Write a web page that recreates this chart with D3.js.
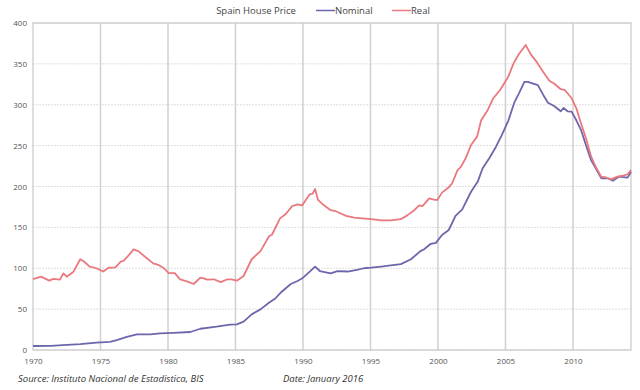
<!DOCTYPE html>
<html><head><meta charset="utf-8">
<script src="https://cdn.jsdelivr.net/npm/d3@7"></script>
<style>body{margin:0;background:#fff;}svg{display:block;font-family:"Open Sans","Noto Sans",sans-serif;}</style>
</head><body>
<svg id="c" width="640" height="390"></svg>
<script>
const title = "Spain House Price";
const seriesNames = ["Nominal", "Real"];
const seriesColors = ["#6c67ac", "#ea787e"];
const yTicks = [0, 50, 100, 150, 200, 250, 300, 350, 400];
const xTicks = [1970, 1975, 1980, 1985, 1990, 1995, 2000, 2005, 2010];
const sourceText = "Source: Instituto Nacional de Estadistica, BIS";
const dateText = "Date: January 2016";

const nominalYears = [1970.0,1971.3,1972.2,1973.5,1974.7,1975.7,1976.2,1976.95,1977.7,1978.7,1979.4,1980.4,1981.65,1982.4,1983.6,1984.6,1985.1,1985.6,1986.2,1986.85,1987.5,1987.95,1988.4,1989.1,1989.6,1989.95,1990.5,1990.9,1991.25,1992.05,1992.55,1993.3,1994.0,1994.5,1995.05,1995.8,1996.2,1997.25,1998.0,1998.7,1998.95,1999.45,1999.85,2000.3,2000.8,2001.3,2001.8,2002.45,2002.95,2003.3,2003.8,2004.3,2004.7,2005.2,2005.65,2006.0,2006.4,2006.65,2007.4,2007.8,2008.15,2008.6,2009.1,2009.3,2009.6,2009.9,2010.25,2010.6,2011.0,2011.35,2011.7,2012.1,2012.6,2012.95,2013.4,2014.05,2014.3];
const nominalValues = [4.9,5,6,7.3,9,10,12,16,19,19,20.4,21,22,26,28.5,31,31.4,34.7,43.6,49.7,58,63,71,80.7,84.4,87.7,95.8,102,96.6,93.8,96.6,96,97.9,100,100.7,102,102.8,105,111,121,123,129.7,131,140.7,146.8,164,172,193.6,206,222,234.5,248.7,262,280,302.5,314,328,328,324,312,302.5,298.5,292,296,292,291.6,281,269,248.7,232,222,210,210,207,212,210.8,218];

const realYears = [1970.0,1970.6,1971.2,1971.5,1972.0,1972.25,1972.5,1973.0,1973.5,1973.8,1974.2,1974.7,1975.2,1975.6,1976.1,1976.5,1976.7,1977.1,1977.45,1977.8,1978.3,1978.9,1979.3,1979.7,1980.05,1980.5,1980.9,1981.4,1981.9,1982.4,1982.6,1982.9,1983.4,1983.9,1984.4,1984.7,1985.1,1985.6,1986.2,1986.85,1987.5,1987.7,1988.3,1988.7,1989.2,1989.6,1989.95,1990.5,1990.7,1990.9,1991.1,1991.55,1992.05,1992.4,1992.8,1993.2,1993.8,1994.4,1995.05,1995.8,1996.5,1997.25,1997.75,1998.25,1998.6,1998.85,1999.35,1999.7,1999.95,2000.3,2000.8,2001.05,2001.45,2001.7,2002.05,2002.45,2002.9,2003.2,2003.7,2004.1,2004.6,2005.2,2005.6,2006.0,2006.5,2006.9,2007.3,2007.8,2008.25,2008.6,2009.1,2009.4,2009.9,2010.25,2010.6,2011.0,2011.35,2011.7,2012.1,2012.45,2012.8,2013.3,2013.8,2014.05,2014.3];
const realValues = [86.7,89.7,84.8,87,86,93.8,89.7,95.8,111,108,102,100,96,100.6,101,108,109,116,123,121,114,106,104,100,94,94,86.5,84,80.7,88.5,88,86,86.5,83,86.5,86.4,84.8,90.5,111,121,139.5,141,161,166,176,178,177,190.4,191,197,184,177,171,170,167,164,162,161,160,158.5,158.5,160,165,171,177,176,185.5,184,183.5,192.5,199,204,220,224,234.5,250.8,261,281,294,308,318,334,350.6,362,373,361,352.7,340,329.4,326,319,318,308,295.6,277,257,236.5,223.5,212,211,208.8,212,213.6,215,220];

const svg = d3.select("#c");
const L = 33, R = 631, T = 23, B = 350;
const x = d3.scaleLinear().domain([1970, 2014.3]).range([L, R]);
const y = d3.scaleLinear().domain([0, 400]).range([B, T]);

// horizontal grid
svg.append("g").selectAll("line").data(yTicks).join("line")
  .attr("x1", L).attr("x2", R).attr("y1", d => y(d)).attr("y2", d => y(d))
  .attr("stroke", "#dedede").attr("stroke-width", 1).attr("stroke-dasharray", "2,1");
// vertical grid
svg.append("g").selectAll("line").data(xTicks.slice(1)).join("line")
  .attr("y1", T).attr("y2", B).attr("x1", d => x(d)).attr("x2", d => x(d))
  .attr("stroke", "#d0d0d0").attr("stroke-width", 1.5);
// frame
svg.append("rect").attr("x", L).attr("y", T).attr("width", R - L).attr("height", B - T)
  .attr("fill", "none").attr("stroke", "#c8c8c8").attr("stroke-width", 1.2);

// axes
const yAxis = d3.axisLeft(y).tickValues(yTicks).tickSize(0).tickPadding(6);
const gy = svg.append("g").attr("transform", `translate(${L},0)`).call(yAxis);
gy.select(".domain").remove();
gy.selectAll("text").attr("font-size", 8).attr("fill", "#555").attr("font-family", "'Open Sans',sans-serif");

const xAxis = d3.axisBottom(x).tickValues(xTicks).tickFormat(d3.format("d")).tickSize(0).tickPadding(8);
const gx = svg.append("g").attr("transform", `translate(0,${B})`).call(xAxis);
gx.select(".domain").remove();
gx.selectAll("text").attr("font-size", 8).attr("fill", "#555").attr("font-family", "'Open Sans',sans-serif");

// lines
const line = d3.line().x(d => x(d[0])).y(d => y(d[1]));
const nominal = nominalYears.map((t, i) => [t, nominalValues[i]]);
const real = realYears.map((t, i) => [t, realValues[i]]);
svg.append("path").datum(nominal).attr("d", line).attr("fill", "none")
  .attr("stroke", seriesColors[0]).attr("stroke-width", 1.8).attr("stroke-linejoin", "round");
svg.append("path").datum(real).attr("d", line).attr("fill", "none")
  .attr("stroke", seriesColors[1]).attr("stroke-width", 1.8).attr("stroke-linejoin", "round");

// title + legend
svg.append("text").attr("x", 256).attr("y", 14).attr("text-anchor", "middle")
  .attr("font-size", 9.5).attr("fill", "#444").text(title);
const legX = [316, 392];
seriesNames.forEach((n, i) => {
  svg.append("line").attr("x1", legX[i]).attr("x2", legX[i] + 19).attr("y1", 10.5).attr("y2", 10.5)
    .attr("stroke", seriesColors[i]).attr("stroke-width", 1.5);
  svg.append("text").attr("x", legX[i] + 19).attr("y", 14).attr("font-size", 9.5)
    .attr("fill", "#444").text(n);
});

// footer
svg.append("text").attr("x", 18).attr("y", 382).attr("font-size", 9.5).attr("font-style", "italic")
  .attr("fill", "#333").text(sourceText);
svg.append("text").attr("x", 283).attr("y", 382).attr("font-size", 9.5).attr("font-style", "italic")
  .attr("fill", "#333").text(dateText);
</script>
</body></html>
